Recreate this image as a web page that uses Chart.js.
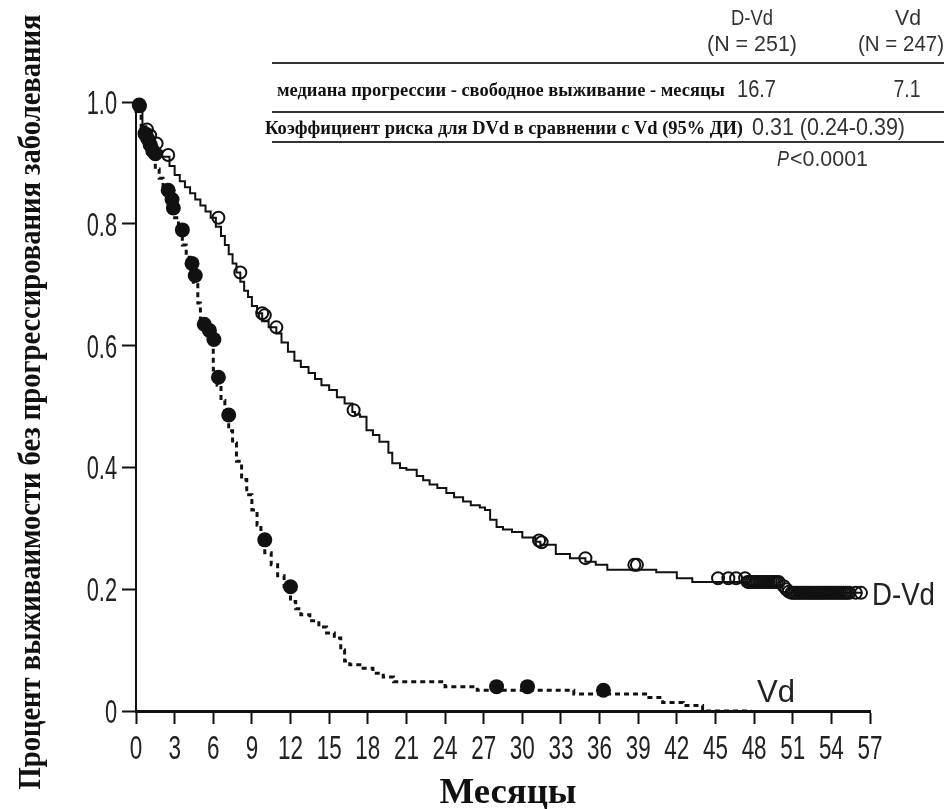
<!DOCTYPE html>
<html>
<head>
<meta charset="utf-8">
<script src="https://cdn.jsdelivr.net/npm/chart.js@4/dist/chart.umd.min.js"></script>
<style>
html,body{margin:0;padding:0;background:#fff;}
#wrap{position:relative;width:944px;height:809px;}
canvas{display:block;}
</style>
</head>
<body>
<div id="wrap"><canvas id="c" width="944" height="809"></canvas></div>
<script>
// ---- Data ----
const xTicks = [0,3,6,9,12,15,18,21,24,27,30,33,36,39,42,45,48,51,54,57];
const yTickValues = [0,0.2,0.4,0.6,0.8,1.0];
const yTickLabels = ['0','0.2','0.4','0.6','0.8','1.0'];

// D-Vd Kaplan-Meier steps (months, survival)
const dvdMonths = [0,0.5,0.8,1.0,1.3,1.6,2.0,2.6,3.0,3.4,3.8,4.2,4.6,5.0,5.4,5.8,6.2,6.6,6.9,7.2,7.5,7.8,8.1,8.4,8.7,9.0,9.4,9.8,10.3,10.9,11.3,11.8,12.3,12.8,13.4,13.9,14.4,15.0,15.6,16.2,16.8,17.0,17.4,17.9,18.4,18.9,19.6,19.9,20.5,21.0,21.8,22.3,22.8,23.4,24.1,24.7,25.4,26.0,26.7,27.1,27.5,28.0,28.5,29.2,30.0,31.0,31.4,32.6,33.7,34.9,35.7,36.6,40.4,42.0,43.2,47.5,50.2,50.8,56.4];
const dvdSurv   = [1.0,0.99,0.96,0.95,0.94,0.93,0.92,0.91,0.895,0.88,0.87,0.86,0.85,0.84,0.83,0.82,0.81,0.795,0.78,0.765,0.75,0.735,0.72,0.705,0.69,0.68,0.665,0.653,0.64,0.63,0.62,0.605,0.59,0.575,0.565,0.555,0.545,0.535,0.527,0.515,0.505,0.491,0.487,0.483,0.461,0.453,0.442,0.424,0.407,0.399,0.396,0.386,0.379,0.372,0.366,0.358,0.351,0.344,0.338,0.334,0.33,0.314,0.302,0.298,0.294,0.285,0.278,0.273,0.258,0.251,0.245,0.24,0.232,0.228,0.218,0.212,0.205,0.194,0.194];

// Vd Kaplan-Meier steps
const vdMonths = [0,0.4,0.6,0.9,1.2,1.5,1.8,2.1,2.4,2.7,3.0,3.3,3.6,3.9,4.2,4.45,4.8,5.0,5.3,5.7,6.0,6.3,6.6,6.9,7.2,7.5,7.8,8.2,8.6,9.0,9.4,9.7,10.0,10.5,11.0,11.5,12.0,12.4,12.8,13.5,14.2,14.8,15.4,15.9,16.2,16.6,17.5,18.4,19.2,20.0,24.0,26.5,34.0,39.7,40.9,42.5,44.0,47.8];
const vdSurv   = [1.0,0.985,0.955,0.94,0.925,0.91,0.89,0.875,0.86,0.845,0.83,0.81,0.79,0.765,0.745,0.725,0.7,0.67,0.635,0.622,0.605,0.56,0.535,0.51,0.486,0.46,0.44,0.41,0.38,0.355,0.33,0.305,0.281,0.26,0.24,0.222,0.204,0.18,0.168,0.158,0.148,0.138,0.128,0.12,0.1,0.082,0.076,0.07,0.062,0.056,0.048,0.04,0.034,0.028,0.022,0.014,0.009,0.0];

// Censored observations
const dvdCensorMonths = [0.3,0.85,1.1,1.6,2.5,6.4,8.1,9.8,10.0,10.9,16.9,31.3,31.5,34.9,38.7,38.9,45.2,46.0,46.6,47.3,
  47.5,47.65,47.8,47.95,48.1,48.25,48.4,48.55,48.7,48.85,49.0,49.15,49.3,49.45,49.6,49.75,49.9,50.3,50.5,50.7,
  50.9,51.05,51.2,51.35,51.5,51.65,51.8,51.95,52.1,52.25,52.4,52.55,52.7,52.85,53.0,53.15,53.3,53.45,53.6,53.75,53.9,54.05,54.2,54.35,54.5,54.65,54.8,54.95,55.1,55.25,55.4,55.9,56.3];
const dvdCensorSurv   = [0.993,0.955,0.945,0.932,0.913,0.81,0.72,0.653,0.65,0.63,0.494,0.28,0.277,0.251,0.24,0.24,0.218,0.218,0.218,0.218,
  0.212,0.212,0.212,0.212,0.212,0.212,0.212,0.212,0.212,0.212,0.212,0.212,0.212,0.212,0.212,0.212,0.212,0.205,0.2,0.196,
  0.194,0.194,0.194,0.194,0.194,0.194,0.194,0.194,0.194,0.194,0.194,0.194,0.194,0.194,0.194,0.194,0.194,0.194,0.194,0.194,0.194,0.194,0.194,0.194,0.194,0.194,0.194,0.194,0.194,0.194,0.194,0.194,0.194];
const vdCensorMonths = [0.25,0.7,0.9,1.1,1.3,1.5,2.5,2.8,2.9,3.6,4.35,4.6,5.3,5.7,6.05,6.4,7.2,10.0,12.0,28.0,30.4,36.3];
const vdCensorSurv   = [0.995,0.948,0.94,0.93,0.92,0.915,0.855,0.84,0.826,0.79,0.735,0.715,0.635,0.625,0.61,0.548,0.486,0.281,0.204,0.04,0.04,0.034];

// Texts
const seriesNames = ['D-Vd','Vd'];
const groupSizes = ['(N = 251)','(N = 247)'];
const rowLabels = ['медиана прогрессии - свободное выживание - месяцы','Коэффициент риска для DVd в сравнении с Vd (95% ДИ)'];
const medianValues = ['16.7','7.1'];
const hazardText = '0.31 (0.24-0.39)';
const xTitle = 'Месяцы';
const yTitle = 'Процент выживаимости без прогрессирования заболевания';

const zip = (xs, ys) => xs.map((x, i) => ({x: x, y: ys[i]}));

const SANS = '"Liberation Sans","Arial",sans-serif';
const SERIF = '"Liberation Serif","Times New Roman",serif';
const NARROW_SCALE = 0.66;

// text squeezed horizontally to a given width
function fitText(ctx, text, x, y, width, font, align, color) {
  ctx.save();
  ctx.font = font;
  ctx.fillStyle = color || '#111';
  ctx.textBaseline = 'alphabetic';
  ctx.textAlign = 'left';
  const w = ctx.measureText(text).width;
  const s = width / w;
  ctx.translate(x, y);
  ctx.scale(s, 1);
  let ox = 0;
  if (align === 'center') ox = -w / 2;
  else if (align === 'right') ox = -w;
  ctx.fillText(text, ox, 0);
  ctx.restore();
}
// text with a fixed horizontal squeeze factor (narrow look)
function narrowText(ctx, text, x, y, size, align, color) {
  ctx.save();
  ctx.font = size + 'px ' + SANS;
  ctx.fillStyle = color || '#222';
  ctx.textBaseline = 'alphabetic';
  ctx.textAlign = align || 'left';
  ctx.translate(x, y);
  ctx.scale(NARROW_SCALE, 1);
  ctx.fillText(text, 0, 0);
  ctx.restore();
}

const decor = {
  id: 'decor',
  afterDraw(chart) {
    const ctx = chart.ctx;
    const xs = chart.scales.x, ys = chart.scales.y;
    // tick labels, positioned by the library's scales
    xs.ticks.forEach(t => {
      const i = xTicks.indexOf(t.value);
      if (i < 0) return;
      narrowText(ctx, String(xTicks[i]), xs.getPixelForValue(t.value), 759, 34, 'center', '#222');
    });
    ys.ticks.forEach(t => {
      const i = yTickValues.indexOf(Math.round(t.value * 10) / 10);
      if (i < 0) return;
      narrowText(ctx, yTickLabels[i], 117, ys.getPixelForValue(t.value) + 12, 33, 'right', '#222');
    });
    // table header
    fitText(ctx, seriesNames[0], 752, 25, 42, '22px ' + SANS, 'center', '#333');
    fitText(ctx, groupSizes[0], 752, 51, 90, '22px ' + SANS, 'center', '#333');
    fitText(ctx, seriesNames[1], 908, 25, 26, '22px ' + SANS, 'center', '#333');
    fitText(ctx, groupSizes[1], 901, 51, 86, '22px ' + SANS, 'center', '#333');
    // rules
    ctx.save();
    ctx.strokeStyle = '#333';
    ctx.lineWidth = 2;
    [63, 112, 142].forEach(yy => {
      ctx.beginPath(); ctx.moveTo(272, yy); ctx.lineTo(944, yy); ctx.stroke();
    });
    ctx.restore();
    // rows
    fitText(ctx, rowLabels[0], 277, 96, 448, 'bold 19px ' + SERIF, 'left', '#111');
    fitText(ctx, medianValues[0], 737, 97, 39, '24px ' + SANS, 'left', '#333');
    fitText(ctx, medianValues[1], 907, 97, 27, '24px ' + SANS, 'center', '#333');
    fitText(ctx, rowLabels[1], 265, 134, 478, 'bold 19px ' + SERIF, 'left', '#111');
    fitText(ctx, hazardText, 752, 135, 153, '24px ' + SANS, 'left', '#333');
    // p value
    fitText(ctx, 'P', 777, 166, 12, 'italic 22px ' + SANS, 'left', '#333');
    fitText(ctx, '<0.0001', 790, 166, 78, '22px ' + SANS, 'left', '#333');
    // series labels at curve ends
    fitText(ctx, seriesNames[0], 872, ys.getPixelForValue(0.194) + 12, 63, '32px ' + SANS, 'left', '#222');
    fitText(ctx, seriesNames[1], 757, ys.getPixelForValue(0) - 9, 38, '32px ' + SANS, 'left', '#222');
    // axis titles
    fitText(ctx, xTitle, 508, 803, 137, 'bold 36px ' + SERIF, 'center', '#111');
    ctx.save();
    ctx.translate(40, 402);
    ctx.rotate(-Math.PI / 2);
    fitText(ctx, yTitle, 0, 0, 775, 'bold 31px ' + SERIF, 'center', '#111');
    ctx.restore();
  }
};

new Chart(document.getElementById('c'), {
  type: 'line',
  data: {
    datasets: [
      {label: 'D-Vd', data: zip(dvdMonths, dvdSurv), stepped: 'after', borderColor: '#111', borderWidth: 2, pointRadius: 0, fill: false, order: 3},
      {label: 'Vd', data: zip(vdMonths, vdSurv), stepped: 'after', borderColor: '#111', borderWidth: 3, borderDash: [5, 4], pointRadius: 0, fill: false, order: 4},
      {label: 'D-Vd censored', data: zip(dvdCensorMonths, dvdCensorSurv), showLine: false, pointStyle: 'circle', pointRadius: 6, pointBorderWidth: 2, pointBorderColor: '#111', pointBackgroundColor: 'rgba(255,255,255,0)', order: 1},
      {label: 'Vd censored', data: zip(vdCensorMonths, vdCensorSurv), showLine: false, pointStyle: 'circle', pointRadius: 7.5, pointBorderWidth: 0, pointBackgroundColor: '#111', pointBorderColor: '#111', order: 2}
    ]
  },
  options: {
    responsive: false,
    animation: false,
    devicePixelRatio: 1,
    clip: false,
    layout: {padding: {top: 102, right: 74, left: 0, bottom: 0}},
    plugins: {legend: {display: false}, tooltip: {enabled: false}},
    elements: {line: {tension: 0}},
    scales: {
      x: {
        type: 'linear', min: 0, max: 57,
        afterBuildTicks: s => { s.ticks = xTicks.map(v => ({value: v})); },
        afterFit: s => { s.height = 98; },
        border: {display: true, color: '#111', width: 3},
        grid: {display: true, drawOnChartArea: false, drawTicks: true, tickLength: 13, tickWidth: 2, tickColor: '#111'},
        ticks: {display: false}
      },
      y: {
        type: 'linear', min: 0, max: 1,
        afterBuildTicks: s => { s.ticks = yTickValues.map(v => ({value: v})); },
        afterFit: s => { s.width = 136; },
        border: {display: true, color: '#111', width: 2},
        grid: {display: true, drawOnChartArea: false, drawTicks: true, tickLength: 14, tickWidth: 2, tickColor: '#111'},
        ticks: {display: false}
      }
    }
  },
  plugins: [decor]
});
</script>
</body>
</html>
